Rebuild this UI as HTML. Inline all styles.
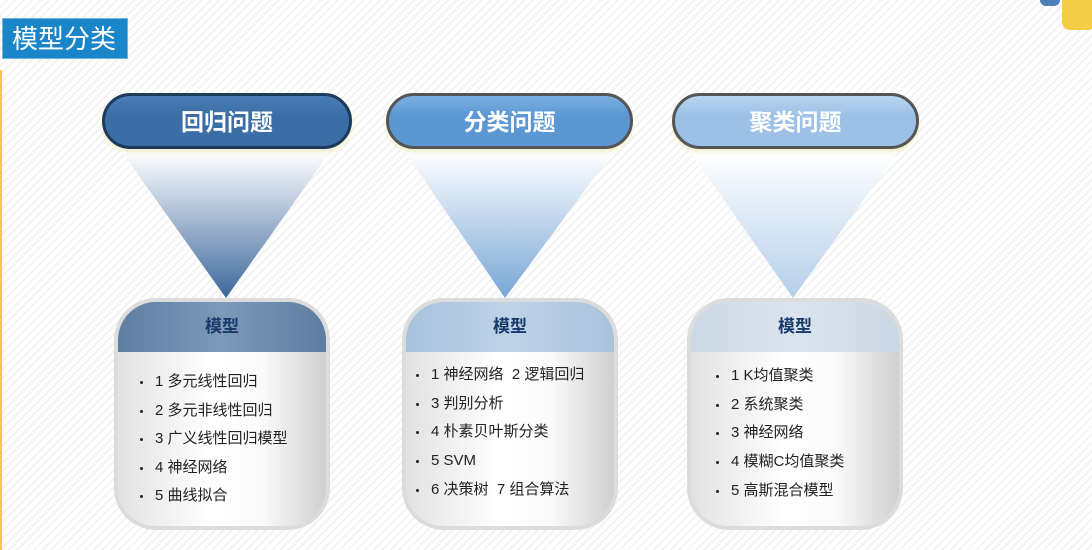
<!DOCTYPE html>
<html><head><meta charset="utf-8"><style>
*{margin:0;padding:0;box-sizing:border-box}
body{width:1092px;height:550px;overflow:hidden;position:relative;font-family:"Liberation Sans","Noto Sans CJK SC",sans-serif;
background:repeating-linear-gradient(135deg,#fff 0 4px,#f3f3f3 4px 6px);}
.title{position:absolute;left:2px;top:18px;width:126px;height:41px;background:#1a85c8;color:#fff;font-size:26px;line-height:41px;padding-left:9px;border:1px solid #6fb3e0}
.yl{position:absolute;left:0;top:70px;width:2px;height:480px;background:#f6c94a}
.pill{position:absolute;height:56px;border-radius:28px;color:#fff;font-weight:bold;font-size:23px;text-align:center;line-height:52px;border:3px solid #555;box-shadow:0 3px 4px rgba(240,240,200,.9)}
.box{position:absolute;top:298px;width:216px;height:232px;border:4px solid #dcdcdc;border-radius:42px;overflow:hidden;
background:linear-gradient(90deg,#e2e2e2,#fff 45%,#fafafa 70%,#cfcfcf)}
.hd{height:50px;text-align:center;font-weight:bold;font-size:17px;color:#173a6b;line-height:50px}
.box ul{list-style:none;position:absolute;left:0;top:2px;width:100%}
.box li{position:absolute;font-size:15px;line-height:18px;height:18px;color:#222;white-space:nowrap}
.box li:before{content:"";position:absolute;left:-15px;top:8px;width:3px;height:3px;border-radius:50%;background:#222}
svg{position:absolute;left:0;top:0}
</style></head><body>
<div class="title">模型分类</div>
<div class="yl"></div>
<div style="position:absolute;left:1040px;top:-6px;width:20px;height:12px;border-radius:6px;background:#4b7fb8"></div>
<div style="position:absolute;left:1062px;top:-8px;width:34px;height:38px;border-radius:8px;background:#f3cd45"></div>
<svg width="1092" height="550">
<defs>
<linearGradient id="g1" x1="0" y1="0" x2="0" y2="1"><stop offset="0" stop-color="#fff"/><stop offset="1" stop-color="#3c679c"/></linearGradient>
<linearGradient id="g2" x1="0" y1="0" x2="0" y2="1"><stop offset="0" stop-color="#fff"/><stop offset="1" stop-color="#78a6d6"/></linearGradient>
<linearGradient id="g3" x1="0" y1="0" x2="0" y2="1"><stop offset="0" stop-color="#fff"/><stop offset="1" stop-color="#b5cfea"/></linearGradient>
</defs>
<polygon points="122,152 330,152 226,298" fill="url(#g1)"/>
<polygon points="405,152 613,152 505,298" fill="url(#g2)"/>
<polygon points="690,152 898,152 793,298" fill="url(#g3)"/>
</svg>
<div class="pill" style="left:102px;top:93px;width:250px;background:linear-gradient(#4a7db5,#3a6ea5 40%,#3a6ea5);border-color:#1d3a5a">回归问题</div>
<div class="pill" style="left:386px;top:93px;width:247px;background:linear-gradient(#7db0e2,#5b97d2 40%,#5b97d2)">分类问题</div>
<div class="pill" style="left:672px;top:93px;width:247px;background:linear-gradient(#b8d4f0,#9dc1e6 40%,#9dc1e6)">聚类问题</div>

<div class="box" style="left:114px">
<div class="hd" style="background:linear-gradient(90deg,#5e7ea2,#7d99b8 50%,#5d7c9f)">模型</div>
<ul><li style="left:37px;top:69px">1 多元线性回归</li><li style="left:37px;top:98px">2 多元非线性回归</li><li style="left:37px;top:126px">3 广义线性回归模型</li><li style="left:37px;top:155px">4 神经网络</li><li style="left:37px;top:183px">5 曲线拟合</li></ul>
</div>
<div class="box" style="left:402px">
<div class="hd" style="background:linear-gradient(90deg,#a8c2dc,#bed3e8 50%,#a9c2dc)">模型</div>
<ul><li style="left:25px;top:62px">1 神经网络&nbsp; 2 逻辑回归</li><li style="left:25px;top:91px">3 判别分析</li><li style="left:25px;top:119px">4 朴素贝叶斯分类</li><li style="left:25px;top:148px">5 SVM</li><li style="left:25px;top:177px">6 决策树&nbsp; 7 组合算法</li></ul>
</div>
<div class="box" style="left:687px">
<div class="hd" style="background:linear-gradient(90deg,#ccd8e4,#dbe4ee 50%,#cbd7e3)">模型</div>
<ul><li style="left:40px;top:63px">1 K均值聚类</li><li style="left:40px;top:92px">2 系统聚类</li><li style="left:40px;top:120px">3 神经网络</li><li style="left:40px;top:149px">4 模糊C均值聚类</li><li style="left:40px;top:178px">5 高斯混合模型</li></ul>
</div>
</body></html>
